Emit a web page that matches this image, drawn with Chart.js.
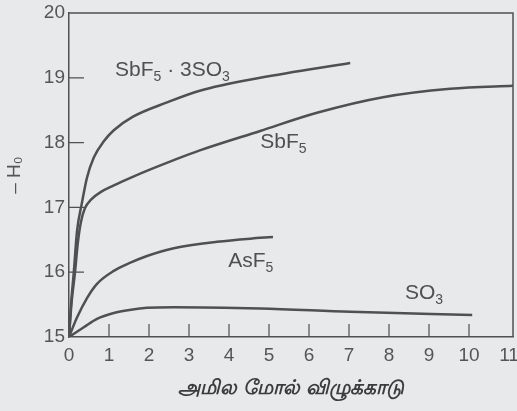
<!DOCTYPE html>
<html>
<head>
<meta charset="utf-8">
<script src="https://cdn.jsdelivr.net/npm/chart.js@4.4.0/dist/chart.umd.min.js"></script>
<style>
  html, body { margin: 0; padding: 0; background: #e7e9ea; }
  #acidWrap { width: 517px; height: 411px; }
</style>
</head>
<body>
<div id="acidWrap"><canvas id="acidPlot" width="517" height="411"></canvas></div>
<script>
// curve values (x = acid mole %, y = -H0)
const sbf5so3X = [0, 0.05, 0.12, 0.2, 0.32, 0.45, 0.62, 0.87, 1.12, 1.6, 2.45, 3.27, 4.78, 7.03]
const sbf5so3Y = [15, 15.5, 16.0, 16.63, 17.06, 17.46, 17.77, 18.02, 18.19, 18.4, 18.62, 18.8, 19.0, 19.23]

const sbf5X = [0, 0.06, 0.15, 0.22, 0.3, 0.4, 0.55, 0.8, 1.12, 1.55, 2.05, 2.62, 3.27, 4.78, 6.2, 7.85, 9.53, 11.2]
const sbf5Y = [15, 15.5, 16.0, 16.45, 16.78, 16.99, 17.12, 17.24, 17.34, 17.46, 17.59, 17.73, 17.88, 18.18, 18.46, 18.7, 18.83, 18.88]

const asf5X = [0, 0.2, 0.45, 0.7, 1.12, 1.55, 1.95, 2.62, 3.7, 4.78, 5.1]
const asf5Y = [15, 15.3, 15.6, 15.82, 16.02, 16.15, 16.25, 16.37, 16.47, 16.53, 16.545]

const so3X = [0, 0.37, 0.7, 1.12, 1.55, 1.95, 2.62, 4.78, 7.03, 10.08]
const so3Y = [15, 15.15, 15.28, 15.37, 15.42, 15.45, 15.46, 15.44, 15.39, 15.34]

const xTickLabels = [0, 1, 2, 3, 4, 5, 6, 7, 8, 9, 10, 11]
const yTickLabels = [15, 16, 17, 18, 19, 20]
const xTickMarks = [1, 2, 3, 4, 5, 6, 7, 8, 9, 10]
const yTickMarks = [16, 17, 18, 19]

const xTitle = 'அமில மோல் விழுக்காடு'
const yTitle = '– H₀'

// curve labels: [text, subscript] parts, anchored at data coordinates
const curveLabels = [
    { parts: [['SbF', false], ['5', true], [' · 3SO', false], ['3', true]], x: 1.15, y: 19.03 },
    { parts: [['SbF', false], ['5', true]], x: 4.78, y: 17.91 },
    { parts: [['AsF', false], ['5', true]], x: 3.98, y: 16.08 },
    { parts: [['SO', false], ['3', true]], x: 8.4, y: 15.58 },
]

const INK = '#505050'
const FONT = "'Liberation Sans', 'DejaVu Sans', sans-serif"

const toPoints = (xs, ys) => xs.map((x, i) => ({x: x, y: ys[i]}))

const curve = (label, xs, ys) => ({
    label: label,
    data: toPoints(xs, ys),
    showLine: true,
    fill: false,
    borderColor: INK,
    borderWidth: 2.5,
    pointRadius: 0,
    cubicInterpolationMode: 'monotone',
})

const framePlugin = {
    id: 'frame',
    afterDraw(chart) {
        const {ctx, chartArea: a, scales: {x, y}} = chart
        ctx.save()
        ctx.strokeStyle = INK
        ctx.lineWidth = 1.5
        // top and right frame
        ctx.beginPath()
        ctx.moveTo(a.left, a.top)
        ctx.lineTo(a.right, a.top)
        ctx.lineTo(a.right, a.bottom)
        ctx.stroke()
        // inward tick marks
        ctx.lineWidth = 1.2
        ctx.beginPath()
        xTickMarks.forEach(v => {
            const px = x.getPixelForValue(v)
            ctx.moveTo(px, a.bottom)
            ctx.lineTo(px, a.bottom - 13)
        })
        yTickMarks.forEach(v => {
            const py = y.getPixelForValue(v)
            ctx.moveTo(a.left, py)
            ctx.lineTo(a.left + 15, py)
        })
        ctx.stroke()
        // curve names with subscripts
        ctx.fillStyle = INK
        ctx.textBaseline = 'alphabetic'
        curveLabels.forEach(lbl => {
            let px = x.getPixelForValue(lbl.x)
            const py = y.getPixelForValue(lbl.y)
            lbl.parts.forEach(([txt, sub]) => {
                ctx.font = (sub ? '14px ' : '21px ') + FONT
                ctx.fillText(txt, px, sub ? py + 5 : py)
                px += ctx.measureText(txt).width
            })
        })
        ctx.restore()
    }
}

new Chart(document.getElementById('acidPlot'), {
    type: 'scatter',
    data: {
        datasets: [
            curve('SbF5 · 3SO3', sbf5so3X, sbf5so3Y),
            curve('SbF5', sbf5X, sbf5Y),
            curve('AsF5', asf5X, asf5Y),
            curve('SO3', so3X, so3Y),
        ]
    },
    options: {
        responsive: false,
        animation: false,
        devicePixelRatio: 1,
        layout: { padding: { top: 13, right: 4, left: 0, bottom: 0 } },
        plugins: { legend: { display: false }, tooltip: { enabled: false } },
        scales: {
            x: {
                type: 'linear',
                min: 0,
                max: 11.1,
                grid: { display: false, drawTicks: false },
                border: { display: true, color: INK, width: 1.5 },
                ticks: {
                    stepSize: 1,
                    includeBounds: false,
                    maxRotation: 0,
                    autoSkip: false,
                    padding: 7,
                    color: '#555',
                    font: { family: FONT, size: 19 },
                    callback: v => xTickLabels.includes(v) ? String(v) : ''
                },
                title: {
                    display: true,
                    text: xTitle,
                    color: '#3c3c3c',
                    font: { size: 20, weight: 'bold', style: 'italic' },
                    padding: { top: 0, bottom: 11 }
                },
                afterFit(scale) {
                    scale.height = 74
                    scale.paddingLeft = 0
                    scale.paddingRight = 0
                }
            },
            y: {
                type: 'linear',
                min: 15,
                max: 20,
                grid: { display: false, drawTicks: false },
                border: { display: true, color: INK, width: 1.5 },
                ticks: {
                    stepSize: 1,
                    padding: 4,
                    color: '#555',
                    font: { family: FONT, size: 19 },
                    callback: v => yTickLabels.includes(v) ? String(v) : ''
                },
                title: {
                    display: true,
                    text: yTitle,
                    color: '#555',
                    font: { family: FONT, size: 19 },
                    padding: { top: 3, bottom: 0 }
                },
                afterFit(scale) {
                    scale.width = 69
                    scale.paddingTop = 0
                    scale.paddingBottom = 0
                }
            }
        }
    },
    plugins: [framePlugin]
})
</script>
</body>
</html>
